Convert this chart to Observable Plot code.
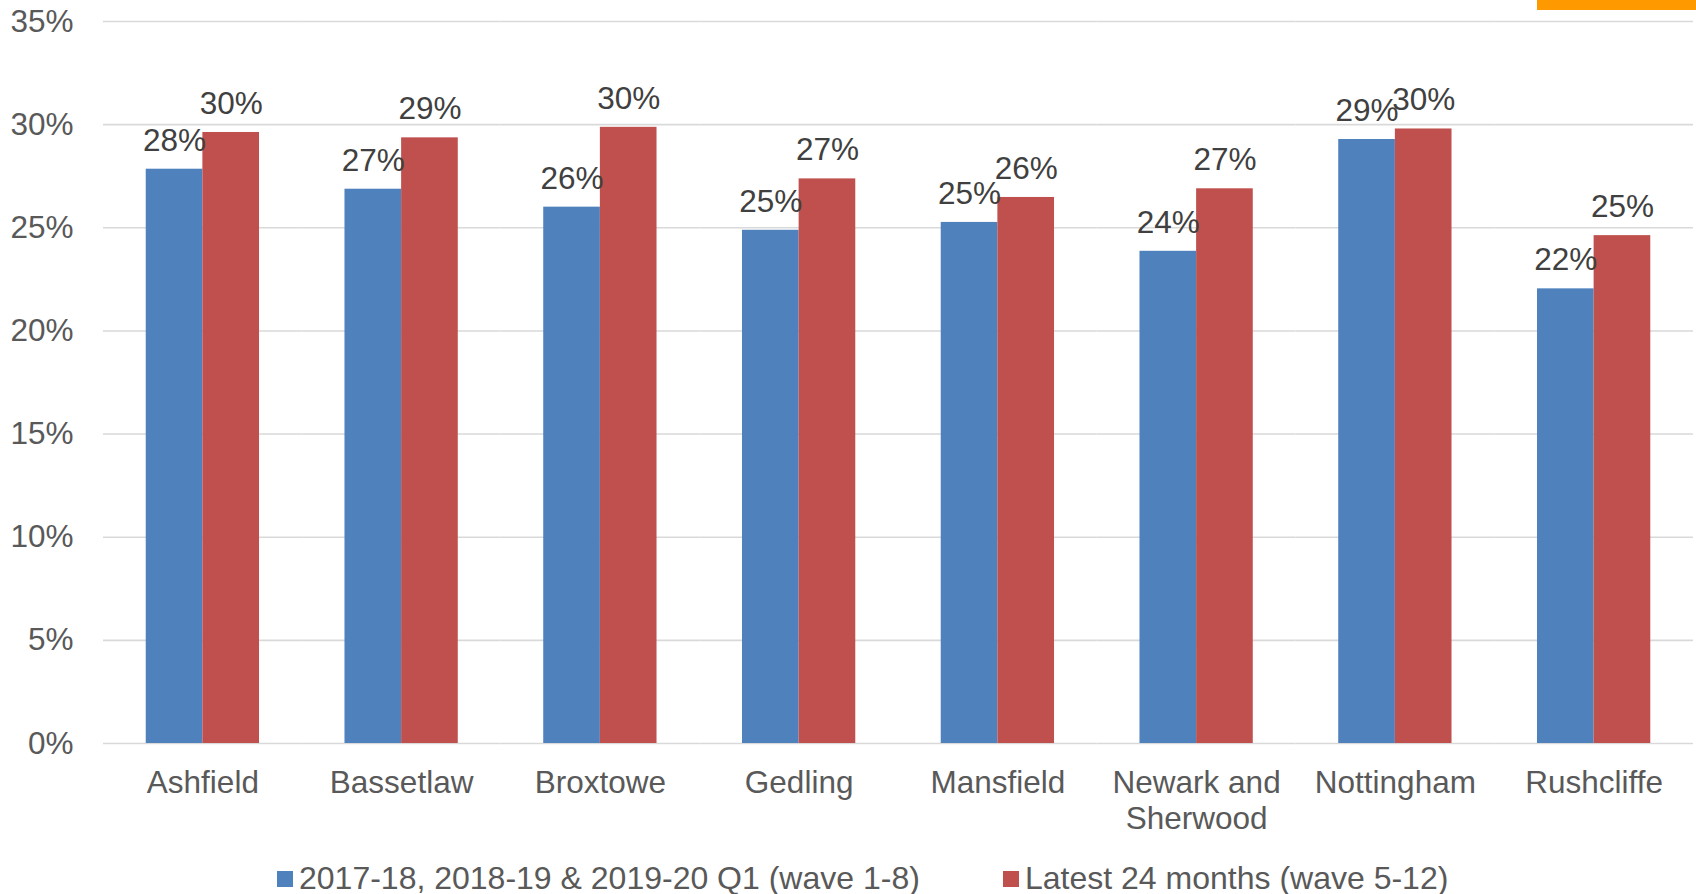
<!DOCTYPE html>
<html>
<head>
<meta charset="utf-8">
<script src="https://cdn.jsdelivr.net/npm/d3@7"></script>
<script src="https://cdn.jsdelivr.net/npm/@observablehq/plot@0.6"></script>
<style>
  html, body { margin: 0; padding: 0; background: #fff; }
  body { position: relative; width: 1696px; height: 894px; overflow: hidden; font-family: "Liberation Sans", Arial, sans-serif; }
  #chart svg { display: block; }
  #legend { position: absolute; left: 0; top: 862px; width: 1696px; height: 32px; }
  .item { position: absolute; top: 0; font-size: 32px; line-height: 32px; color: #595959; white-space: nowrap; }
  .swatch { position: absolute; top: 9px; left: 0; width: 16px; height: 16px; }
  .item span.t { position: absolute; left: 22px; top: 0; }
  #corner { position: absolute; left: 1537px; top: 0; width: 159px; height: 10px; background: #FF9900; }
</style>
</head>
<body>
<div id="chart"></div>
<div id="legend"></div>
<div id="corner"></div>
<script>
// ---- data ----
const categories = ["Ashfield", "Bassetlaw", "Broxtowe", "Gedling", "Mansfield", "Newark and Sherwood", "Nottingham", "Rushcliffe"];
const categoryLabels = ["Ashfield", "Bassetlaw", "Broxtowe", "Gedling", "Mansfield", "Newark and\nSherwood", "Nottingham", "Rushcliffe"];
const seriesNames = ["2017-18, 2018-19 & 2019-20 Q1 (wave 1-8)", "Latest 24 months (wave 5-12)"];
const wave1to8 = [27.84, 26.87, 26.0, 24.88, 25.26, 23.86, 29.28, 22.04];
const latest24 = [29.62, 29.36, 29.87, 27.37, 26.47, 26.89, 29.79, 24.62];
const yTicks = [0, 5, 10, 15, 20, 25, 30, 35];
const seriesColors = ["#4F81BD", "#C0504D"];

// ---- table ----
const seriesValues = [wave1to8, latest24];
const rows = [];
categories.forEach((c, i) => {
  seriesNames.forEach((s, j) => rows.push({cat: c, series: s, value: seriesValues[j][i]}));
});
const labelOf = new Map(categories.map((c, i) => [c, categoryLabels[i]]));

const W = 1696, H = 855;
const chart = Plot.plot({
  width: W,
  height: H,
  marginTop: 21,
  marginBottom: 112,
  marginLeft: 103,
  marginRight: 3,
  style: {fontFamily: "'Liberation Sans', Arial, sans-serif", background: "transparent"},
  fx: {domain: categories, padding: 0, round: false, label: null},
  x: {domain: seriesNames, paddingInner: 0, paddingOuter: 0.7544, round: false, axis: null},
  y: {domain: [0, 35], axis: null},
  color: {domain: seriesNames, range: seriesColors},
  marks: [
    Plot.gridY(yTicks, {stroke: "#D9D9D9", strokeOpacity: 1, strokeWidth: 1.6}),
    Plot.axisY(yTicks, {anchor: "left", tickSize: 0, tickPadding: 30, fontSize: 31.5, fill: "#595959", tickFormat: d => d + "%", label: null}),
    Plot.barY(rows, {fx: "cat", x: "series", y: "value", fill: "series"}),
    Plot.text(rows, {fx: "cat", x: "series", y: "value", text: d => Math.round(d.value) + "%", lineAnchor: "bottom", dy: -18.5, fontSize: 31.5, fill: "#404040"}),
    Plot.axisFx({anchor: "bottom", tickSize: 0, tickPadding: 23.3, fontSize: 31.5, lineHeight: 1.16, fill: "#595959", tickFormat: d => labelOf.get(d), label: null})
  ]
});
document.getElementById("chart").appendChild(chart);

// ---- legend ----
const legend = document.getElementById("legend");
const legendLefts = [277, 1003];
seriesNames.forEach((s, i) => {
  const item = document.createElement("div");
  item.className = "item";
  item.style.left = legendLefts[i] + "px";
  const sw = document.createElement("div");
  sw.className = "swatch";
  sw.style.background = seriesColors[i];
  const t = document.createElement("span");
  t.className = "t";
  t.textContent = s;
  item.appendChild(sw);
  item.appendChild(t);
  legend.appendChild(item);
});
</script>
</body>
</html>
